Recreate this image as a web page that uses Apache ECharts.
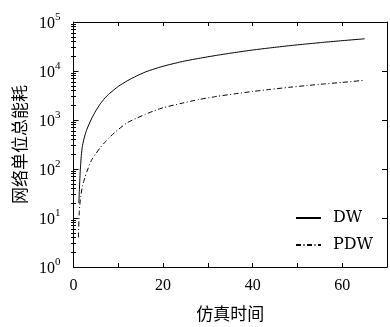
<!DOCTYPE html>
<html><head><meta charset="utf-8">
<script src="https://cdn.jsdelivr.net/npm/echarts@6/dist/echarts.min.js"></script>
<style>html,body{margin:0;padding:0;background:#fff}#c{width:390px;height:327px}</style>
</head><body><div id="c"></div>
<script>
// Data
const timeDW  = [1.2, 1.3, 1.5, 1.75, 2, 2.5, 3, 4, 5, 6, 7, 8, 10, 12, 14, 16, 18, 20, 24, 28, 32, 36, 40, 44, 48, 52, 56, 60, 65];
const valueDW = [20, 35, 90, 190, 300, 470, 650, 1050, 1550, 2150, 2800, 3450, 4850, 6300, 7850, 9500, 11000, 12500, 15400, 18100, 20900, 23800, 26800, 29700, 32700, 35600, 38600, 41600, 45400];
const timePDW  = [1.1, 1.3, 1.6, 2, 2.5, 3, 4, 5, 6, 7, 8, 10, 12, 14, 16, 18, 20, 24, 28, 32, 36, 40, 44, 48, 52, 56, 60, 65];
const valuePDW = [4, 14, 27, 45, 65, 89, 150, 205, 275, 350, 440, 640, 880, 1080, 1300, 1540, 1780, 2180, 2620, 3030, 3420, 3820, 4220, 4630, 5030, 5450, 5850, 6460];
const seriesNames = ['DW', 'PDW'];
const xLabelValues = [0, 20, 40, 60];
const yMinorTicks = [];
for (let d = 1; d < 100000; d *= 10) { for (let k = 2; k <= 9; k++) yMinorTicks.push(k * d); }

const serif = '"Liberation Serif","Times New Roman",serif';
const wideSerif = '"DejaVu Serif",serif';
const cjk = '"Noto Sans CJK SC","Noto Sans CJK JP",sans-serif';
const black = '#000';

const chart = echarts.init(document.getElementById('c'), null, {renderer: 'canvas'});
const pair = (xs, ys) => xs.map((x, i) => [x, ys[i]]);

const baseX = {
  type: 'value', min: 0, max: 70, interval: 10,
  axisLine: {show: true, onZero: false, lineStyle: {color: black, width: 1}},
  axisTick: {show: true, inside: true, length: 4, lineStyle: {color: black}},
  splitLine: {show: false}
};
const baseY = {
  type: 'log', logBase: 10, min: 1, max: 100000,
  axisLine: {show: true, onZero: false, lineStyle: {color: black, width: 1}},
  axisTick: {show: true, inside: true, length: 5, lineStyle: {color: black}},
  splitLine: {show: false}, minorTick: {show: false}
};

chart.setOption({
  animation: false,
  backgroundColor: '#fff',
  grid: {left: 73.5, right: 3, top: 22, bottom: 57, containLabel: false},
  legend: {
    data: seriesNames, orient: 'vertical', left: 290, top: 205,
    itemWidth: 25, itemHeight: 10, itemGap: 11,
    itemStyle: {opacity: 0},
    textStyle: {fontFamily: wideSerif, fontSize: 16, color: black, padding: [0, 0, 0, 7]}
  },
  xAxis: [
    Object.assign({}, baseX, {
      position: 'bottom',
      name: '仿真时间', nameLocation: 'middle', nameGap: 38,
      nameTextStyle: {fontFamily: cjk, fontSize: 17, color: black},
      axisLabel: {show: true, margin: 11, color: black, fontFamily: serif, fontSize: 16,
        formatter: v => xLabelValues.indexOf(v) >= 0 ? String(v) : ''}
    }),
    Object.assign({}, baseX, {position: 'top', axisLabel: {show: false}})
  ],
  yAxis: [
    Object.assign({}, baseY, {
      position: 'left',
      name: '网络单位总能耗', nameLocation: 'middle', nameGap: 44, nameRotate: 90,
      nameTextStyle: {fontFamily: cjk, fontSize: 17, color: black},
      axisLabel: {show: true, margin: 13, color: black,
        formatter: v => '{b|10}{s|' + Math.round(Math.log10(v)) + '}',
        rich: {
          b: {fontFamily: serif, fontSize: 16, color: black, verticalAlign: 'bottom'},
          s: {fontFamily: serif, fontSize: 11, color: black, verticalAlign: 'top', padding: [0, 0, 9, 0]}
        }}
    }),
    Object.assign({}, baseY, {position: 'right', axisLabel: {show: false}}),
    Object.assign({}, baseY, {position: 'left', axisLine: {show: false}, axisLabel: {show: false},
      axisTick: {show: true, inside: true, length: 2.5, customValues: yMinorTicks, lineStyle: {color: black}}}),
    Object.assign({}, baseY, {position: 'right', axisLine: {show: false}, axisLabel: {show: false},
      axisTick: {show: true, inside: true, length: 2.5, customValues: yMinorTicks, lineStyle: {color: black}}})
  ],
  series: [
    {name: seriesNames[0], type: 'line', data: pair(timeDW, valueDW), showSymbol: false, symbol: 'none',
      smooth: 0.2, lineStyle: {color: black, width: 1, type: 'solid'}, itemStyle: {color: black}},
    {name: seriesNames[1], type: 'line', data: pair(timePDW, valuePDW), showSymbol: false, symbol: 'none',
      smooth: 0.2, lineStyle: {color: black, width: 1, type: [5, 2.5, 1, 2.5]}, itemStyle: {color: black}}
  ]
});
</script></body></html>
